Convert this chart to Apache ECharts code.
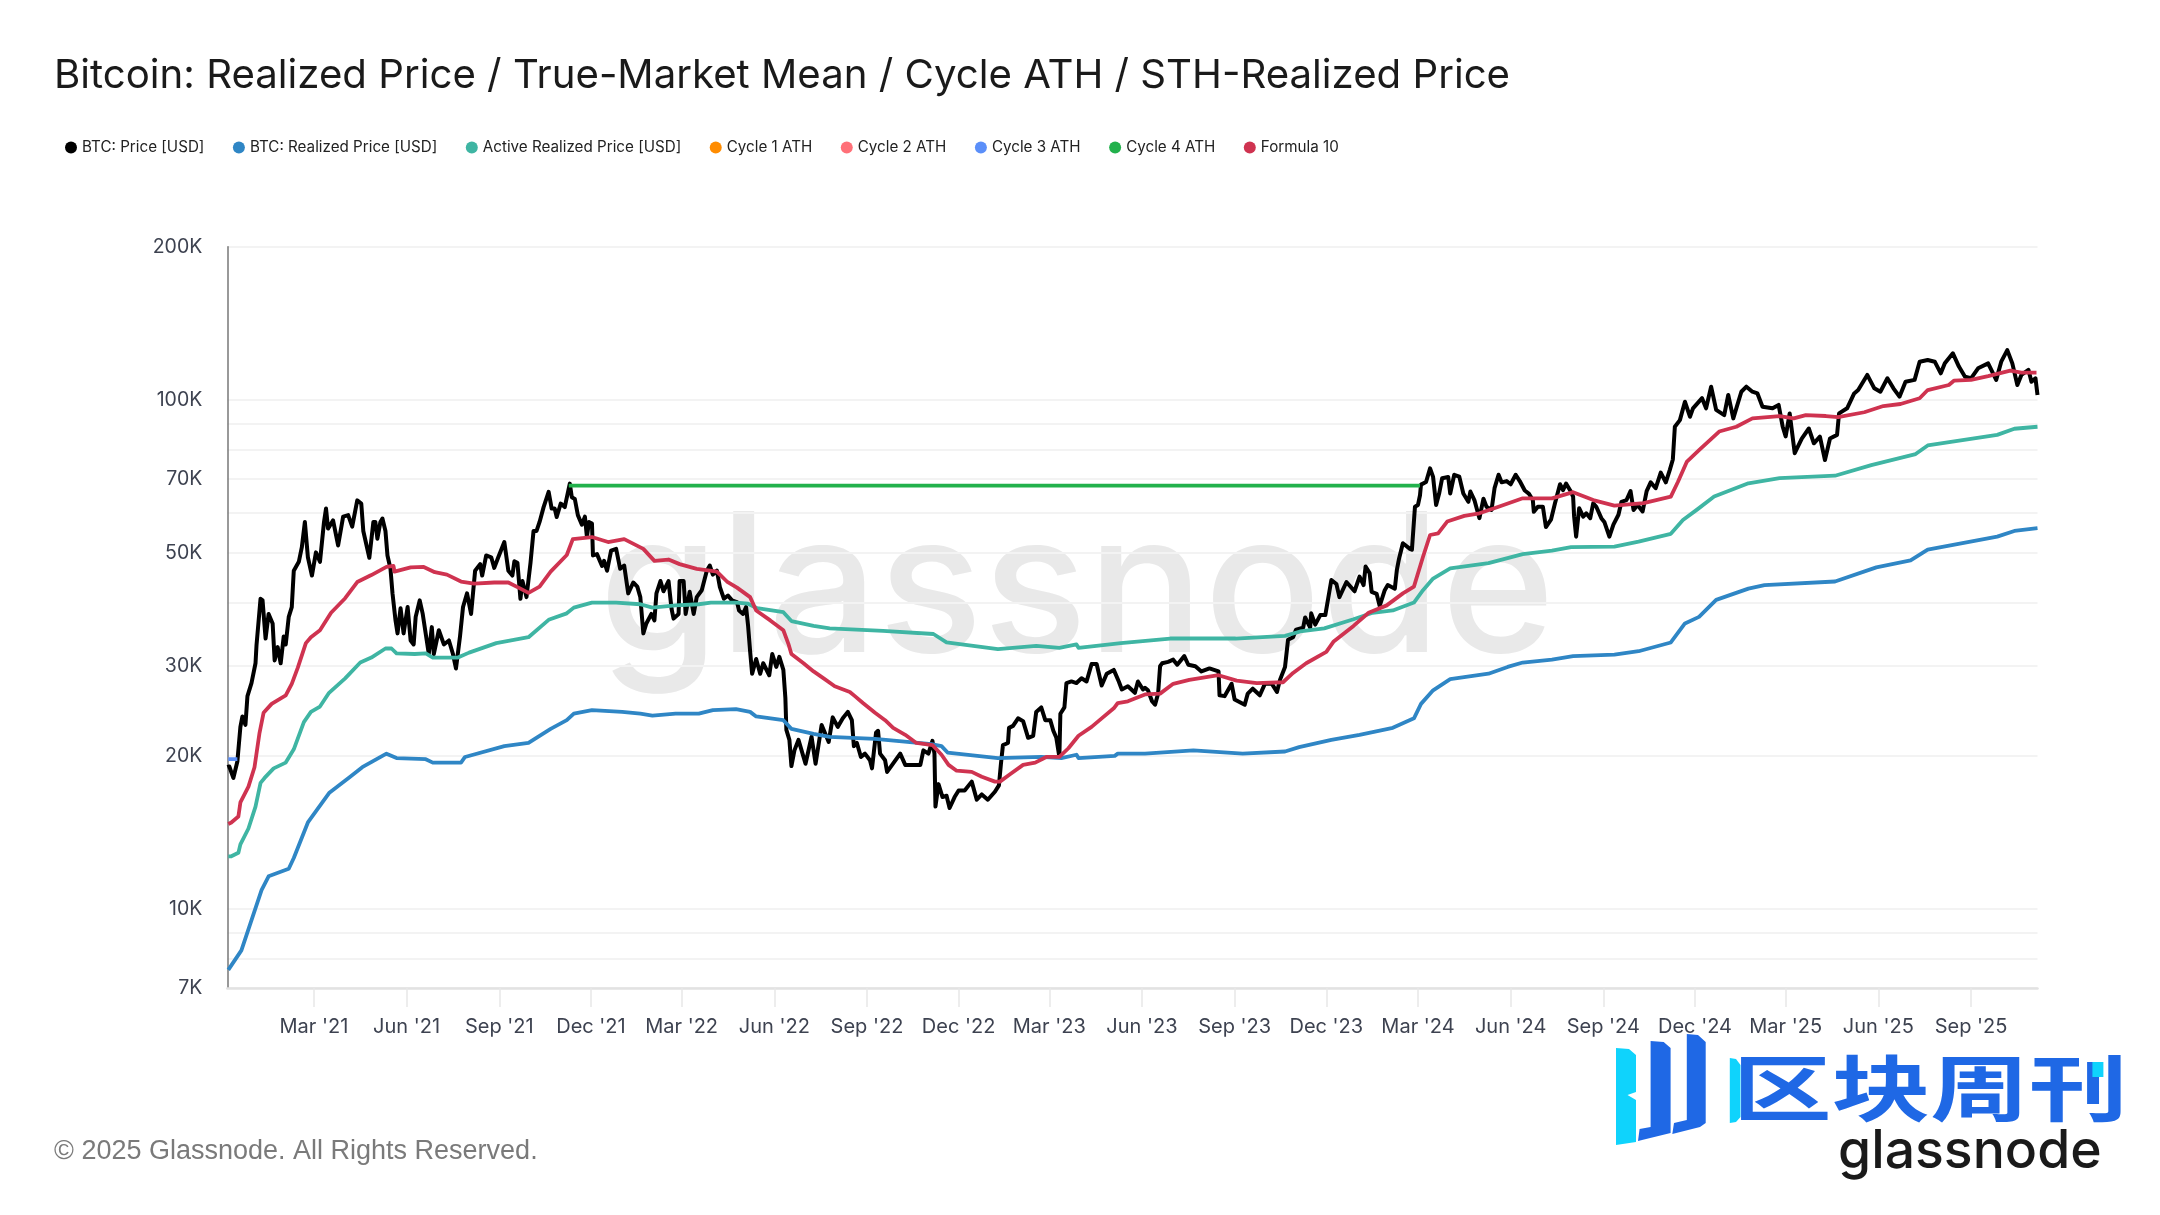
<!DOCTYPE html>
<html><head><meta charset="utf-8">
<style>html,body{margin:0;padding:0;background:#fff}#c{width:2160px;height:1215px}</style>
<script src="https://cdn.jsdelivr.net/npm/echarts@6/dist/echarts.min.js"></script>
</head><body><div id="c"></div>
<script>
const startDate = Date.UTC(2020, 11, 5);
const lastDay = 1797;
const titleText = 'Bitcoin: Realized Price / True-Market Mean / Cycle ATH / STH-Realized Price';
const footerText = '© 2025 Glassnode. All Rights Reserved.';
const yLabelTicks = [7000, 10000, 20000, 30000, 50000, 70000, 100000, 200000];
const yGridTicks = [7000, 8000, 9000, 10000, 20000, 30000, 40000, 50000, 60000, 70000, 80000, 90000, 100000, 200000];
const xTickDates = ['2021-03-01','2021-06-01','2021-09-01','2021-12-01','2022-03-01','2022-06-01','2022-09-01','2022-12-01','2023-03-01','2023-06-01','2023-09-01','2023-12-01','2024-03-01','2024-06-01','2024-09-01','2024-12-01','2025-03-01','2025-06-01','2025-09-01'];
const seriesNames = ['BTC: Price [USD]','BTC: Realized Price [USD]','Active Realized Price [USD]','Cycle 1 ATH','Cycle 2 ATH','Cycle 3 ATH','Cycle 4 ATH','Formula 10'];
// [days since startDate, USD]
const btcPrice = [[0,19000],[2,19060],[6,18100],[10,19500],[13,22800],[15,23900],[18,23000],[20,26200],[24,27800],[28,30400],[29,33000],[33,40700],[35,40400],[38,34000],[41,38000],[45,36400],[47,30800],[50,32700],[53,30400],[56,34300],[58,33100],[61,37500],[64,39200],[66,46200],[71,48100],[74,51400],[77,57600],[80,49100],[84,45200],[88,50200],[92,48100],[96,57600],[98,61200],[100,55900],[105,58000],[110,51800],[115,59000],[120,59400],[124,56400],[129,63500],[133,62600],[135,55300],[141,49000],[145,57600],[147,57600],[149,53400],[152,57600],[154,58500],[157,55300],[159,49500],[162,46600],[164,41700],[167,36900],[169,34800],[172,39000],[175,34800],[179,39200],[182,33700],[185,33100],[187,37500],[191,40400],[194,38000],[198,33700],[200,31700],[203,35800],[205,31700],[210,35300],[215,33100],[220,33700],[224,31700],[227,29700],[231,34300],[234,39200],[238,41700],[242,38000],[246,46200],[251,47600],[253,45200],[257,49500],[262,49100],[265,46800],[269,49100],[275,52600],[279,46200],[283,45200],[285,48200],[288,47900],[291,40700],[293,44100],[297,41000],[301,47900],[304,55300],[307,55300],[310,57600],[314,61600],[319,66000],[322,61200],[325,61200],[327,58900],[331,62600],[335,61600],[340,68500],[342,64400],[345,63900],[348,59400],[352,56900],[355,59000],[357,53800],[359,57600],[362,57200],[363,49500],[367,49800],[372,47200],[374,48300],[377,46200],[381,50600],[386,51000],[390,46600],[394,47300],[398,41700],[403,43800],[407,43000],[410,41000],[413,34800],[416,36400],[421,38000],[424,36900],[426,41700],[430,44100],[433,42100],[438,44100],[441,38900],[443,37200],[448,38000],[449,44100],[453,44100],[455,38000],[459,42000],[463,38000],[466,41000],[471,42300],[476,46200],[479,47300],[482,45400],[486,46200],[489,42900],[493,40700],[497,41300],[501,40400],[506,40100],[508,38600],[512,38000],[515,39200],[517,36000],[519,32100],[521,29000],[525,31000],[529,29000],[532,30400],[538,28800],[541,31700],[545,29900],[548,31300],[552,29500],[554,26000],[555,22500],[558,21500],[560,19100],[563,20500],[567,21500],[574,19300],[580,21800],[584,19300],[590,23000],[597,21300],[601,23800],[606,22800],[611,23700],[616,24400],[620,23500],[622,20900],[625,21200],[629,19900],[633,20200],[638,19600],[640,18900],[644,22200],[646,22400],[648,20200],[653,19600],[655,18600],[660,19200],[668,20200],[673,19200],[683,19200],[688,19200],[691,20500],[696,20200],[700,21400],[702,20200],[703,15900],[706,17600],[710,16600],[714,16700],[717,15800],[722,16600],[726,17100],[732,17100],[739,17800],[744,16400],[749,16800],[755,16400],[762,17000],[766,17500],[768,19300],[770,21000],[775,21200],[776,22700],[780,22900],[785,23700],[790,23400],[795,21700],[800,21900],[803,24400],[808,24900],[812,23500],[817,23500],[820,22400],[823,21700],[826,19900],[827,24200],[831,24900],[833,27800],[838,28000],[843,27800],[848,28400],[853,28000],[858,30300],[863,30300],[868,27500],[873,29000],[880,29500],[885,28000],[888,27000],[894,27400],[901,26600],[904,28000],[909,27000],[911,27200],[914,26900],[918,25600],[921,25200],[924,26500],[926,30000],[928,30400],[934,30600],[939,30900],[943,30200],[950,31400],[954,30200],[961,30000],[967,29300],[975,29700],[984,29300],[985,26300],[990,26200],[997,27700],[1000,25800],[1010,25200],[1013,26500],[1018,27100],[1025,26300],[1030,27700],[1037,27700],[1042,26700],[1045,28200],[1050,29900],[1053,33800],[1058,34200],[1061,35400],[1068,35700],[1070,37400],[1075,35700],[1076,38100],[1080,36200],[1085,37800],[1090,37800],[1096,44300],[1101,43500],[1104,41000],[1111,43900],[1119,42100],[1124,45000],[1128,43300],[1130,47100],[1134,45700],[1136,42000],[1141,41600],[1144,39400],[1149,42300],[1152,43300],[1159,42600],[1161,46300],[1163,48600],[1167,52300],[1174,51000],[1176,50800],[1179,61700],[1182,62200],[1184,65000],[1185,68200],[1190,69000],[1194,73400],[1197,70600],[1200,62200],[1203,65500],[1206,70200],[1212,70600],[1214,65500],[1218,71300],[1223,70700],[1227,65500],[1232,63100],[1234,66100],[1238,63600],[1242,59500],[1243,58600],[1247,64000],[1250,61700],[1255,60800],[1258,67100],[1262,71300],[1265,68900],[1270,69300],[1274,68300],[1279,71300],[1283,69300],[1288,66400],[1292,65500],[1296,63600],[1297,60300],[1301,61700],[1306,61700],[1309,56300],[1314,58200],[1318,62700],[1323,68300],[1326,66500],[1329,68500],[1333,66500],[1336,64600],[1337,59000],[1339,53900],[1342,61300],[1346,59000],[1349,59900],[1353,58600],[1356,62700],[1359,61700],[1364,58600],[1367,57600],[1372,53900],[1376,56900],[1381,59500],[1384,63100],[1389,63600],[1393,66200],[1396,60800],[1400,62200],[1405,60400],[1409,66200],[1413,68900],[1418,67100],[1423,72000],[1428,68900],[1432,72900],[1435,76400],[1437,88600],[1442,91300],[1447,99200],[1452,92700],[1455,96300],[1464,100800],[1468,96300],[1473,106200],[1478,95600],[1486,93400],[1490,102300],[1495,92000],[1503,103800],[1508,106200],[1514,103800],[1519,103000],[1524,97000],[1534,96300],[1540,97800],[1544,88700],[1547,84800],[1551,94100],[1556,78600],[1563,84000],[1570,87900],[1575,82200],[1581,84700],[1586,76200],[1591,84000],[1598,85400],[1600,94100],[1608,96300],[1615,103000],[1619,104600],[1628,112000],[1635,105400],[1641,103800],[1648,110300],[1654,105400],[1660,101500],[1666,108600],[1675,109500],[1680,118900],[1688,119800],[1695,118900],[1701,112800],[1705,118000],[1713,123500],[1719,116300],[1725,111100],[1731,110300],[1738,115400],[1748,118000],[1756,109500],[1761,118900],[1767,125300],[1772,118000],[1777,107000],[1781,112000],[1788,114600],[1791,108600],[1795,110300],[1797,102300]];
const realizedPrice = [[1,7600],[14,8300],[34,10900],[41,11600],[61,12000],[66,12600],[80,14800],[101,16900],[122,18200],[134,19000],[158,20200],[168,19800],[197,19700],[204,19400],[232,19400],[236,19900],[275,20900],[299,21200],[321,22600],[337,23500],[344,24200],[362,24600],[392,24400],[410,24200],[422,24000],[445,24200],[468,24200],[482,24600],[505,24700],[519,24400],[525,23900],[552,23500],[560,22600],[582,22100],[598,21800],[643,21600],[699,21100],[709,20900],[715,20300],[765,19800],[808,19900],[828,19800],[843,20100],[845,19800],[881,20000],[884,20200],[911,20200],[959,20500],[1008,20200],[1050,20400],[1064,20800],[1096,21500],[1124,22000],[1157,22700],[1178,23700],[1185,25300],[1197,26900],[1214,28300],[1252,29000],[1271,29900],[1286,30500],[1315,30900],[1336,31400],[1377,31600],[1401,32100],[1433,33400],[1447,36400],[1461,37500],[1478,40500],[1510,42600],[1526,43300],[1596,44000],[1637,46900],[1671,48400],[1688,50800],[1757,53900],[1774,55300],[1797,56000]];
const activeRealizedPrice = [[1,12700],[4,12700],[11,12900],[13,13400],[21,14400],[28,15900],[33,17700],[37,18100],[46,18900],[58,19400],[66,20600],[76,23300],[83,24400],[92,25000],[101,26600],[117,28400],[132,30500],[143,31200],[157,32500],[163,32500],[168,31800],[186,31700],[197,31800],[204,31200],[229,31200],[240,31900],[267,33300],[299,34200],[319,37000],[337,38100],[344,39100],[362,40000],[386,40000],[410,39700],[422,39100],[445,39500],[468,39700],[480,40000],[505,40000],[517,39800],[526,39000],[552,38300],[560,36800],[582,36000],[598,35600],[651,35200],[701,34700],[714,33400],[765,32400],[803,32900],[826,32600],[843,33100],[845,32600],[887,33300],[936,34000],[1001,34000],[1050,34400],[1065,35100],[1089,35600],[1118,37100],[1137,38200],[1157,38600],[1178,40000],[1187,42300],[1197,44600],[1214,46700],[1252,47800],[1286,49800],[1315,50600],[1334,51400],[1377,51500],[1401,52700],[1433,54600],[1445,58100],[1459,60900],[1476,64600],[1510,68600],[1541,70200],[1596,71000],[1632,74500],[1676,78300],[1688,81400],[1757,85400],[1774,87800],[1797,88600]];
const cycle1Ath = [];
const cycle2Ath = [];
const cycle3Ath = [[1,19700],[10,19700]];
const cycle4Ath = [[339,67900],[1184,67900]];
const formula10 = [[1,14700],[4,14800],[11,15200],[13,16200],[21,17400],[27,19000],[32,22200],[36,24300],[44,25300],[58,26300],[64,27700],[70,29800],[78,33300],[83,34200],[92,35300],[103,38200],[117,40800],[129,43900],[143,45300],[158,47000],[165,47200],[166,46000],[182,46900],[195,47000],[206,45900],[218,45400],[232,44000],[245,43600],[265,43800],[279,43800],[290,42700],[299,41800],[310,43000],[321,46000],[337,49600],[343,53300],[362,53800],[378,52600],[394,53300],[413,51000],[424,48300],[438,48600],[449,47600],[466,46600],[479,46200],[486,46000],[496,44000],[506,42800],[519,41000],[525,38600],[539,36900],[552,35300],[557,33200],[560,31700],[572,30400],[582,29300],[592,28400],[603,27400],[618,26700],[623,26200],[631,25400],[643,24300],[653,23500],[661,22700],[673,22000],[684,21200],[700,21000],[709,20100],[716,19200],[724,18700],[739,18600],[749,18200],[762,17800],[767,17800],[777,18400],[790,19200],[802,19400],[813,19900],[826,19900],[835,20700],[845,21900],[858,22800],[868,23700],[880,24800],[884,25400],[894,25600],[911,26400],[926,26500],[939,27700],[955,28200],[984,28800],[1002,28100],[1022,27800],[1048,27900],[1058,29100],[1071,30400],[1091,32000],[1098,33500],[1118,36000],[1133,38200],[1151,39500],[1167,41700],[1178,43000],[1187,49200],[1194,54300],[1202,54700],[1211,57700],[1228,59200],[1243,59900],[1262,61700],[1286,64100],[1315,64100],[1336,65900],[1356,63600],[1377,62000],[1406,62700],[1433,64600],[1440,69000],[1449,75700],[1461,79700],[1481,86700],[1498,88600],[1514,92000],[1541,93000],[1555,92000],[1567,93400],[1587,93000],[1599,92500],[1625,94600],[1644,97300],[1661,98200],[1680,100800],[1688,104600],[1709,107000],[1714,109100],[1731,109500],[1748,111400],[1770,114200],[1781,113200],[1796,113200]];

const seriesData = [btcPrice, realizedPrice, activeRealizedPrice, cycle1Ath, cycle2Ath, cycle3Ath, cycle4Ath, formula10];
const seriesColors = ['#000000','#2f86c5','#3fb5a3','#ff8c00','#ff7078','#5b8ff9','#22b14c','#cf3350'];
const toTime = d => startDate + d * 86400000;
const font = 'Inter, "Liberation Sans", sans-serif';
const fmtDate = v => {
  const d = new Date(v);
  return ['Jan','Feb','Mar','Apr','May','Jun','Jul','Aug','Sep','Oct','Nov','Dec'][d.getUTCMonth()] + " '" + String(d.getUTCFullYear()).slice(2);
};
const xTickTimes = xTickDates.map(s => Date.parse(s + 'T00:00:00Z'));

const chart = echarts.init(document.getElementById('c'), null, {renderer:'canvas', width:2160, height:1215});
chart.setOption({
  animation: false,
  backgroundColor: '#ffffff',
  title: {text: titleText, left: 49, top: 50.5, textStyle: {fontFamily: font, fontSize: 40.2, fontWeight: 400, color: '#1a1a1a'}},
  legend: {
    left: 60, top: 135, icon: 'circle', itemWidth: 12, itemHeight: 12, itemGap: 28.5, selectedMode: false,
    data: seriesNames,
    textStyle: {fontFamily: font, fontSize: 15.2, color: '#222', padding: [0,0,0,0]}
  },
  grid: {left: 227.3, right: 122.5, top: 246.7, bottom: 227},
  xAxis: {
    type: 'value', min: toTime(0), max: toTime(lastDay),
    axisLine: {onZero:false, lineStyle: {color: '#e2e2e2', width: 2.5}},
    axisTick: {show: true, length: 19, lineStyle: {color: '#e8e8e8', width: 1.5}, customValues: xTickTimes},
    axisLabel: {customValues: xTickTimes, formatter: fmtDate, margin: 29, fontFamily: font, fontSize: 20, color: '#3d4250', hideOverlap: false},
    splitLine: {show: false}, minorTick: {show: false}
  },
  yAxis: {
    type: 'log', logBase: 10, min: 7000, max: 200000,
    axisLine: {show: true, lineStyle: {color: '#777', width: 1.5}},
    axisTick: {show: false, customValues: yGridTicks},
    axisLabel: {customValues: yLabelTicks, formatter: v => Math.round(v/1000) + 'K', margin: 25, fontFamily: font, fontSize: 19.5, color: '#3d4250'},
    splitLine: {show: true, lineStyle: {color: '#f3f3f3', width: 2}},
    minorTick: {show: false}, minorSplitLine: {show: false}
  },
  series: seriesNames.map((name, i) => ({
    name, type: 'line', showSymbol: false, symbol: 'none', smooth: false,
    color: seriesColors[i],
    lineStyle: {color: seriesColors[i], width: i === 0 ? 4 : 3.8, join: 'round'},
    data: seriesData[i].map(p => [toTime(p[0]), p[1]])
  })),
  graphic: [
    {type:'text', z:-1, left:599, top:497, style:{text:'glassnode', fontFamily:'Inter, sans-serif', fontSize:194, fontWeight:500, fill:'#e9e9e9'}},
    {type:'text', left:54, top:1138, style:{text:footerText, fontFamily:'"Liberation Sans", sans-serif', fontSize:27, fill:'#7a7a7a'}},
    {type:'polygon', shape:{points:[[1616,1048],[1629,1049],[1636,1055],[1636,1092],[1627.5,1095],[1636,1100],[1636,1142],[1616,1145]]}, style:{fill:'#0fd3fc'}},
    {type:'polygon', shape:{points:[[1650.6,1041],[1663.7,1042],[1670.6,1048],[1670.6,1133],[1638,1141],[1639.6,1129],[1650.6,1127]]}, style:{fill:'#1f68e5'}},
    {type:'polygon', shape:{points:[[1686.8,1034],[1698,1035],[1705.7,1042],[1705.7,1123],[1700,1127],[1672.3,1134],[1674,1123],[1686.8,1120]]}, style:{fill:'#1f68e5'}},
    {type:'text', left:1733, top:1052, scaleX:1.37, originX:1733, style:{text:'区块周刊', fontFamily:'"Noto Sans CJK SC"', fontSize:72, fontWeight:700, fill:'#1f68e5'}},
    {type:'polygon', shape:{points:[[1729.8,1058],[1736,1059],[1740.5,1065],[1740.5,1117],[1736,1122],[1729.8,1123]]}, style:{fill:'#0fd3fc'}},
    {type:'rect', shape:{x:2092.4,y:1062,width:11,height:15}, style:{fill:'#0fd3fc'}},
    {type:'text', left:1838, top:1125, style:{text:'glassnode', fontFamily:'Inter, sans-serif', fontSize:53.5, fontWeight:500, fill:'#1a1a1a'}}
  ]
});
</script></body></html>
